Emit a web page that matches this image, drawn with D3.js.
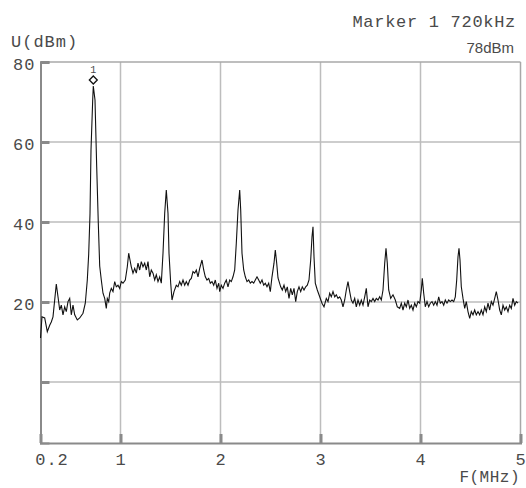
<!DOCTYPE html>
<html><head><meta charset="utf-8">
<script src="https://cdn.jsdelivr.net/npm/d3@7"></script>
<style>
html,body{margin:0;padding:0;background:#fff;}
svg{display:block;}
</style></head>
<body>
<svg id="chart" width="526" height="488"></svg>
<script>
// ---- data ----
const freqMHz = [0.2,0.215,0.242,0.268,0.292,0.308,0.325,0.358,0.375,0.392,0.408,0.425,0.442,0.458,0.475,0.492,0.508,0.525,0.542,0.568,0.592,0.625,0.648,0.668,0.682,0.695,0.705,0.722,0.728,0.745,0.762,0.778,0.792,0.808,0.825,0.842,0.858,0.868,0.882,0.892,0.908,0.925,0.942,0.958,0.975,0.992,1.008,1.025,1.048,1.068,1.082,1.095,1.108,1.125,1.142,1.158,1.175,1.192,1.208,1.225,1.242,1.258,1.275,1.292,1.308,1.325,1.342,1.358,1.375,1.392,1.408,1.425,1.442,1.458,1.475,1.485,1.502,1.515,1.535,1.558,1.575,1.592,1.608,1.625,1.642,1.658,1.675,1.692,1.708,1.725,1.742,1.758,1.775,1.792,1.815,1.832,1.848,1.865,1.882,1.898,1.915,1.932,1.948,1.965,1.982,1.992,2.008,2.025,2.042,2.058,2.075,2.092,2.108,2.125,2.142,2.158,2.175,2.192,2.202,2.215,2.232,2.248,2.265,2.282,2.298,2.315,2.332,2.348,2.365,2.382,2.398,2.415,2.432,2.448,2.465,2.482,2.498,2.515,2.535,2.548,2.562,2.575,2.602,2.618,2.635,2.652,2.668,2.685,2.702,2.718,2.735,2.752,2.768,2.785,2.802,2.818,2.835,2.852,2.868,2.885,2.902,2.915,2.925,2.935,2.948,2.968,2.992,3.015,3.035,3.058,3.075,3.092,3.108,3.125,3.142,3.158,3.175,3.192,3.208,3.225,3.242,3.258,3.275,3.292,3.308,3.325,3.342,3.358,3.375,3.392,3.408,3.425,3.442,3.458,3.475,3.492,3.508,3.525,3.542,3.558,3.575,3.592,3.608,3.625,3.642,3.655,3.668,3.682,3.702,3.725,3.748,3.768,3.792,3.808,3.825,3.842,3.858,3.875,3.892,3.908,3.925,3.942,3.958,3.975,3.992,4.008,4.018,4.032,4.048,4.065,4.082,4.098,4.115,4.132,4.148,4.165,4.182,4.198,4.215,4.232,4.248,4.265,4.282,4.298,4.315,4.332,4.348,4.362,4.375,4.385,4.395,4.408,4.425,4.442,4.458,4.475,4.492,4.508,4.525,4.542,4.558,4.575,4.592,4.608,4.625,4.642,4.658,4.675,4.692,4.708,4.725,4.742,4.758,4.775,4.792,4.808,4.825,4.842,4.858,4.875,4.892,4.908,4.925,4.942,4.958,4.975];
const levelDBm = [11,16.3,16,12.6,14.2,15,16.3,24.5,21.3,18,19.2,16.8,18.8,17.6,20.1,20.9,16.8,19.2,16.8,15.5,16,17.2,19.7,25.5,32,42,58,70.5,74,70.5,53.8,39.7,29,25.5,22.2,20.9,18.4,20.9,20.1,22.2,23.4,22.6,25.1,23.8,24.2,23.4,25.1,24.7,25.5,28.8,32.2,30.5,28.8,27.2,28.4,27.2,29.7,28,30.1,28.8,29.7,28,30.1,26.3,28,27.2,25.5,26.8,25.1,26.3,24.7,32.2,42.2,48,42.2,32.2,24.7,20.5,22.6,24.2,23.8,25.1,24.2,25.5,24.2,25.1,24.2,25.5,25.9,27.6,27.2,28,26.3,28.4,30.5,28,26.3,25.5,25.9,24.7,25.1,24.2,25.5,23.4,24.7,22.6,24.2,23.4,24.7,25.5,23.8,25.5,25.1,26.3,28,34.7,43,48,43,32.2,28,26.3,25.1,25.5,24.7,25.1,24.7,25.5,26.3,25.5,24.7,25.5,24.2,24.7,23.8,24.7,22.6,26.3,29.7,33,29.7,26,23.8,23,24.2,22.6,23.8,20.9,23.4,21.8,23.4,20.1,22.6,23.8,22.6,23.8,23,23.8,24.2,25.5,30.5,36.3,38.8,31.3,24.7,23,21.3,19.7,18.8,20.9,20.1,22.2,21.3,22.6,21.3,21.8,20.9,21.3,20.5,18.8,20.5,23,25.1,22.6,20.5,19.7,20.9,18.8,20.5,19.2,20.5,19.2,21.3,23.4,18.8,20.5,20.1,20.9,20.1,20.9,20.5,21.3,20.5,23,29.7,33.4,29.7,23,20.9,21.8,20.5,18.8,18.4,19.7,18,19.7,18.8,20.5,18.4,19.2,18,19.7,18.8,20.1,19.7,23,25.9,22.2,18.8,20.1,18.8,19.7,20.1,19.2,20.1,19.2,21.3,19.7,20.1,19.2,20.5,19.7,20.5,20.1,20.5,20.1,21.3,25.5,31.3,33.4,30.5,23.8,20.9,18.4,20.1,17.6,15.9,17.6,16.8,18,16.8,17.6,16.8,18,16.8,18.8,17.6,19.7,18,20.1,19.2,20.9,22.6,20.5,18,16.8,19.2,18,18.8,17.6,19.2,18.4,20.9,19.2,20.1,19.7];
const xTicks = [0.2, 1, 2, 3, 4, 5];
const xTickLabels = ["0.2", "1", "2", "3", "4", "5"];
const yTicks = [80, 60, 40, 20, 0];
const yTickLabels = ["80", "60", "40", "20", ""];
const xDomain = [0.2, 5];
const yDomain = [-15.25, 80];
const markerFreq = [0.728];
const markerLevel = [74];
const markerTitle = "Marker 1 720kHz";
const markerValueText = "78dBm";
const yTitle = "U(dBm)";
const xTitle = "F(MHz)";

// ---- layout ----
const L = 40.5, R = 520.5, T = 62, B = 443;
const svg = d3.select("#chart");
const x = d3.scaleLinear().domain(xDomain).range([L, R]);
const y = d3.scaleLinear().domain(yDomain).range([B, T]);
const mono = "'Liberation Mono', 'Courier New', monospace";
const txtCol = "#4a4a4a";

// grid
svg.append("g").selectAll("line").data(xTicks.filter(d => d > xDomain[0] && d < xDomain[1]))
  .join("line").attr("x1", d => x(d)).attr("x2", d => x(d)).attr("y1", T).attr("y2", B)
  .attr("stroke", "#bdbdbd").attr("stroke-width", 1.5);
svg.append("g").selectAll("line").data(yTicks.filter(d => d < yDomain[1]))
  .join("line").attr("x1", L).attr("x2", R).attr("y1", d => y(d)).attr("y2", d => y(d))
  .attr("stroke", "#bdbdbd").attr("stroke-width", 1.5);

// frame top/right
svg.append("line").attr("x1", L).attr("x2", R).attr("y1", T).attr("y2", T).attr("stroke", "#a8a8a8").attr("stroke-width", 1.5);
svg.append("line").attr("x1", R).attr("x2", R).attr("y1", T).attr("y2", B).attr("stroke", "#a8a8a8").attr("stroke-width", 1.5);

// axes
const yAxis = d3.axisLeft(y).tickValues(yTicks).tickSize(-9).tickPadding(14)
  .tickFormat((d, i) => yTickLabels[i]);
const gy = svg.append("g").attr("transform", `translate(${L},0)`).call(yAxis);
gy.select(".domain").attr("stroke", "#8a8a8a").attr("stroke-width", 2);
gy.selectAll(".tick line").attr("stroke", "#8a8a8a").attr("stroke-width", 3);
gy.selectAll(".tick text").attr("font-family", mono).attr("font-size", 17)
  .attr("letter-spacing", 1).attr("fill", txtCol).attr("dy", "0.42em").attr("x", -5);

const xAxis = d3.axisBottom(x).tickValues(xTicks).tickSize(-9).tickPadding(14)
  .tickFormat((d, i) => xTickLabels[i]);
const gx = svg.append("g").attr("transform", `translate(0,${B})`).call(xAxis);
gx.select(".domain").attr("stroke", "#8a8a8a").attr("stroke-width", 2);
gx.selectAll(".tick line").attr("stroke", "#8a8a8a").attr("stroke-width", 3);
gx.selectAll(".tick text").attr("font-family", mono).attr("font-size", 17)
  .attr("letter-spacing", 1).attr("fill", txtCol).attr("y", 22).attr("dy", 0)
  .attr("dx", (d, i) => i === 0 ? 11 : 0);

// trace
const pts = freqMHz.map((f, i) => [f, levelDBm[i]]);
svg.append("path").datum(pts)
  .attr("d", d3.line().x(d => x(d[0])).y(d => y(d[1])))
  .attr("fill", "none").attr("stroke", "#111").attr("stroke-width", 1.1);

// marker
markerFreq.forEach((f, i) => {
  const mx = x(f), my = y(markerLevel[i]) - 6;
  svg.append("path").attr("d", d3.symbol(d3.symbolDiamond2, 40)())
    .attr("transform", `translate(${mx},${my})`)
    .attr("fill", "#fff").attr("stroke", "#111").attr("stroke-width", 1.3);
  svg.append("text").attr("x", mx).attr("y", my - 7).attr("text-anchor", "middle")
    .attr("font-family", mono).attr("font-size", 10).attr("fill", txtCol).text(String(i + 1));
});

// titles
svg.append("text").attr("x", 11).attr("y", 47).attr("font-family", mono).attr("font-size", 17)
  .attr("letter-spacing", 1).attr("fill", txtCol).text(yTitle);
svg.append("text").attr("x", 520).attr("y", 482).attr("text-anchor", "end").attr("font-family", mono)
  .attr("font-size", 16).attr("letter-spacing", 0.5).attr("fill", txtCol).text(xTitle);
svg.append("text").attr("x", 516).attr("y", 27).attr("text-anchor", "end").attr("font-family", mono)
  .attr("font-size", 17).attr("letter-spacing", 0.7).attr("fill", txtCol).text(markerTitle);
svg.append("text").attr("x", 514).attr("y", 53).attr("text-anchor", "end")
  .attr("font-family", "'Liberation Sans', Arial, sans-serif").attr("font-size", 15)
  .attr("fill", txtCol).text(markerValueText);
</script>
</body></html>
